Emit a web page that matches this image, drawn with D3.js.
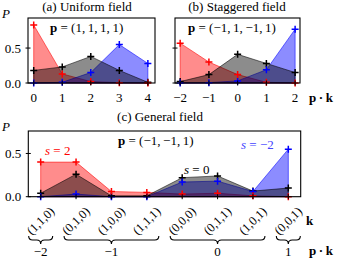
<!doctype html>
<html>
  <head>
    <meta charset='utf-8'>
    <script src="https://d3js.org/d3.v7.min.js"></script>
    <style>
      body { margin: 0; background: #fff; }
      svg { display: block; }
    </style>
  </head>

  <body>

  <svg width="342" height="262"></svg>

  <script>
    // (a) uniform field p = (1,1,1,1)
    const countsA = [0, 1, 2, 3, 4];
    const redA = [0.83, 0.13, 0.02, 0.005, 0];
    const blackA = [0.18, 0.23, 0.38, 0.18, 0.01];
    const blueA = [0, 0.01, 0.15, 0.55, 0.28];

    // (b) staggered field p = (-1,1,-1,1)
    const countsB = [-2, -1, 0, 1, 2];
    const redB = [0.57, 0.30, 0.12, 0.01, 0];
    const blackB = [0.02, 0.12, 0.41, 0.28, 0.15];
    const blueB = [0, 0.005, 0.03, 0.19, 0.77];

    // (c) general field p = (-1,-1,1)
    const configs = ["(1,1,0)", "(0,1,0)", "(1,0,0)", "(1,1,1)", "(0,0,0)", "(0,1,1)", "(1,0,1)", "(0,0,1)"];
    const redC = [0.40, 0.40, 0.06, 0.05, 0.03, 0.04, 0.01, 0];
    const blackC = [0.04, 0.26, 0.01, 0.01, 0.22, 0.24, 0.065, 0.10];
    const blueC = [0, 0.03, 0, 0, 0.17, 0.18, 0.06, 0.55];

    const groupLabels = ["\u22122", "\u22121", "0", "1"];
    const groupFirst = [0, 1, 4, 7];
    const groupLast = [0, 3, 6, 7];

    const yTicks = [0, 0.5];
    const colors = {red: "#ff0000", black: "#000000", blue: "#0000ff"};

    const svg = d3.select("svg")
      .attr("font-family", "'Liberation Serif', 'DejaVu Serif', serif");
    const fmt = d3.format(".1f");
    const minus = (v) => String(v).replace("-", "\u2212");

    const xA = d3.scaleLinear().domain([-0.2, 4.25]).range([28, 155]);
    const xB = d3.scaleLinear().domain([-2.18, 2.17]).range([175, 300]);
    const yAB = d3.scaleLinear().domain([0, 0.93]).range([83, 18]);
    const xC = d3.scaleLinear().domain([-0.35, 7.35]).range([28.3, 300.7]);
    const yC = d3.scaleLinear().domain([0, 0.76]).range([196.7, 131]);

    const plus = (x, y) => `M${x - 3.5},${y}H${x + 3.5}M${x},${y - 3.5}V${y + 3.5}`;

    const drawSeries = (g, xs, series, x, y) => {
      // areas: red, blue, then black over them
      series.forEach(([vals, col]) => {
        const pts = xs.map((v, i) => [v, vals[i]]);
        const area = d3.area()
          .x((d) => x(d[0]))
          .y0(y(0))
          .y1((d) => y(d[1]));
        g.append("path")
          .attr("d", area(pts))
          .attr("fill", col)
          .attr("fill-opacity", 0.45)
          .attr("stroke", col)
          .attr("stroke-opacity", 0.55)
          .attr("stroke-width", 1);
      });
      [...series].reverse().forEach(([vals, col]) => {
        g.selectAll(null)
          .data(xs.map((v, i) => [v, vals[i]]))
          .enter()
            .append("path")
              .attr("d", (d) => plus(x(d[0]), y(d[1])))
              .attr("stroke", col)
              .attr("stroke-width", 1.5)
              .attr("fill", "none");
      });
    };

    const frame = (x, y) => {
      const [x0, x1] = x.range(), [y0, y1] = y.range();
      svg.append("rect")
        .attr("x", x0).attr("y", y1)
        .attr("width", x1 - x0).attr("height", y0 - y1)
        .attr("fill", "none")
        .attr("stroke", "#000")
        .attr("stroke-width", 1.1);
    };

    const yAxis = (x, y, labels) => {
      const x0 = x.range()[0];
      const g = svg.append("g");
      g.selectAll("line").data(yTicks).enter().append("line")
        .attr("x1", x0 - 2.5).attr("x2", x0 + 2.5)
        .attr("y1", (d) => y(d)).attr("y2", (d) => y(d))
        .attr("stroke", "#000").attr("stroke-width", 1);
      if (labels) {
        g.selectAll("text").data(yTicks).enter().append("text")
          .attr("x", x0 - 7).attr("y", (d) => y(d) + 4.5)
          .attr("text-anchor", "end")
          .attr("font-size", 13)
          .text(fmt);
        svg.append("text").attr("x", 2).attr("y", y.range()[1])
          .attr("font-size", 13).attr("font-style", "italic").text("P");
      }
    };

    const xAxis = (x, y, ticks, labels) => {
      const y0 = y.range()[0];
      const g = svg.append("g");
      g.selectAll("line").data(ticks).enter().append("line")
        .attr("x1", (d) => x(d)).attr("x2", (d) => x(d))
        .attr("y1", y0 - 2.5).attr("y2", y0 + 2.5)
        .attr("stroke", "#000").attr("stroke-width", 1);
      if (labels) {
        g.selectAll("text").data(ticks).enter().append("text")
          .attr("x", (d) => x(d)).attr("y", 102)
          .attr("text-anchor", "middle")
          .attr("font-size", 13)
          .text(minus);
      }
    };

    const mathLabel = (x, y, boldPart, rest, anchor) => {
      const t = svg.append("text").attr("x", x).attr("y", y)
        .attr("font-size", 13).attr("text-anchor", anchor || "start");
      t.append("tspan").attr("font-weight", "bold").text(boldPart);
      t.append("tspan").text(rest);
      return t;
    };

    // panel (a)
    const gA = svg.append("g");
    drawSeries(gA, countsA, [[redA, colors.red], [blueA, colors.blue], [blackA, colors.black]], xA, yAB);
    frame(xA, yAB);
    yAxis(xA, yAB, true);
    xAxis(xA, yAB, countsA, true);
    svg.append("text").attr("x", 87).attr("y", 11).attr("text-anchor", "middle")
      .attr("font-size", 13).text("(a) Uniform field");
    mathLabel(50, 32, "p", " = (1,\u20091,\u20091,\u20091)");

    // panel (b)
    const gB = svg.append("g");
    drawSeries(gB, countsB, [[redB, colors.red], [blueB, colors.blue], [blackB, colors.black]], xB, yAB);
    frame(xB, yAB);
    yAxis(xB, yAB, false);
    xAxis(xB, yAB, countsB, true);
    svg.append("text").attr("x", 237).attr("y", 11).attr("text-anchor", "middle")
      .attr("font-size", 13).text("(b) Staggered field");
    mathLabel(188, 32, "p", " = (\u22121,\u20091,\u2009\u22121,\u20091)");
    svg.append("text").attr("x", 309).attr("y", 102)
      .attr("font-size", 13).attr("font-weight", "bold").text("p\u2009\u00b7\u2009k");

    // panel (c)
    const idx = configs.map((_, i) => i);
    const gC = svg.append("g");
    drawSeries(gC, idx, [[redC, colors.red], [blueC, colors.blue], [blackC, colors.black]], xC, yC);
    frame(xC, yC);
    yAxis(xC, yC, true);
    xAxis(xC, yC, idx, false);
    svg.append("text").attr("x", 160).attr("y", 121).attr("text-anchor", "middle")
      .attr("font-size", 13).text("(c) General field");
    mathLabel(118, 145, "p", " = (\u22121,\u2009\u22121,\u20091)");

    const sLabel = (x, y, val, col) => {
      const t = svg.append("text").attr("x", x).attr("y", y)
        .attr("font-size", 13).attr("fill", col);
      t.append("tspan").attr("font-style", "italic").text("s");
      t.append("tspan").text(" = " + val);
    };
    sLabel(45, 155, "2", colors.red);
    sLabel(184, 174, "0", colors.black);
    sLabel(241, 149, "\u22122", "#4444ff");

    svg.append("g").selectAll("text").data(configs).enter().append("text")
      .attr("transform", (d, i) => `translate(${xC(i)},221) rotate(-45)`)
      .attr("text-anchor", "middle")
      .attr("dominant-baseline", "central")
      .attr("font-size", 12.5)
      .text((d) => d);

    const brace = (x1, x2, y, h) => {
      const m = (x1 + x2) / 2, ym = y + h / 2, r = h / 2;
      return `M${x1},${y}Q${x1},${ym} ${x1 + r},${ym}L${m - r},${ym}Q${m},${ym} ${m},${y + h}` +
        `Q${m},${ym} ${m + r},${ym}L${x2 - r},${ym}Q${x2},${ym} ${x2},${y}`;
    };

    const gBr = svg.append("g");
    groupLabels.forEach((lab, k) => {
      const x1 = xC(groupFirst[k]) - 12, x2 = xC(groupLast[k]) + 12;
      gBr.append("path")
        .attr("d", brace(x1, x2, 236, 8))
        .attr("fill", "none").attr("stroke", "#000").attr("stroke-width", 1.1);
      gBr.append("text")
        .attr("x", (x1 + x2) / 2).attr("y", 256)
        .attr("text-anchor", "middle").attr("font-size", 13)
        .text(lab);
    });

    svg.append("text").attr("x", 306).attr("y", 225)
      .attr("font-size", 13).attr("font-weight", "bold").text("k");
    svg.append("text").attr("x", 309).attr("y", 255)
      .attr("font-size", 13).attr("font-weight", "bold").text("p\u2009\u00b7\u2009k");
  </script>
  </body>
</html>
